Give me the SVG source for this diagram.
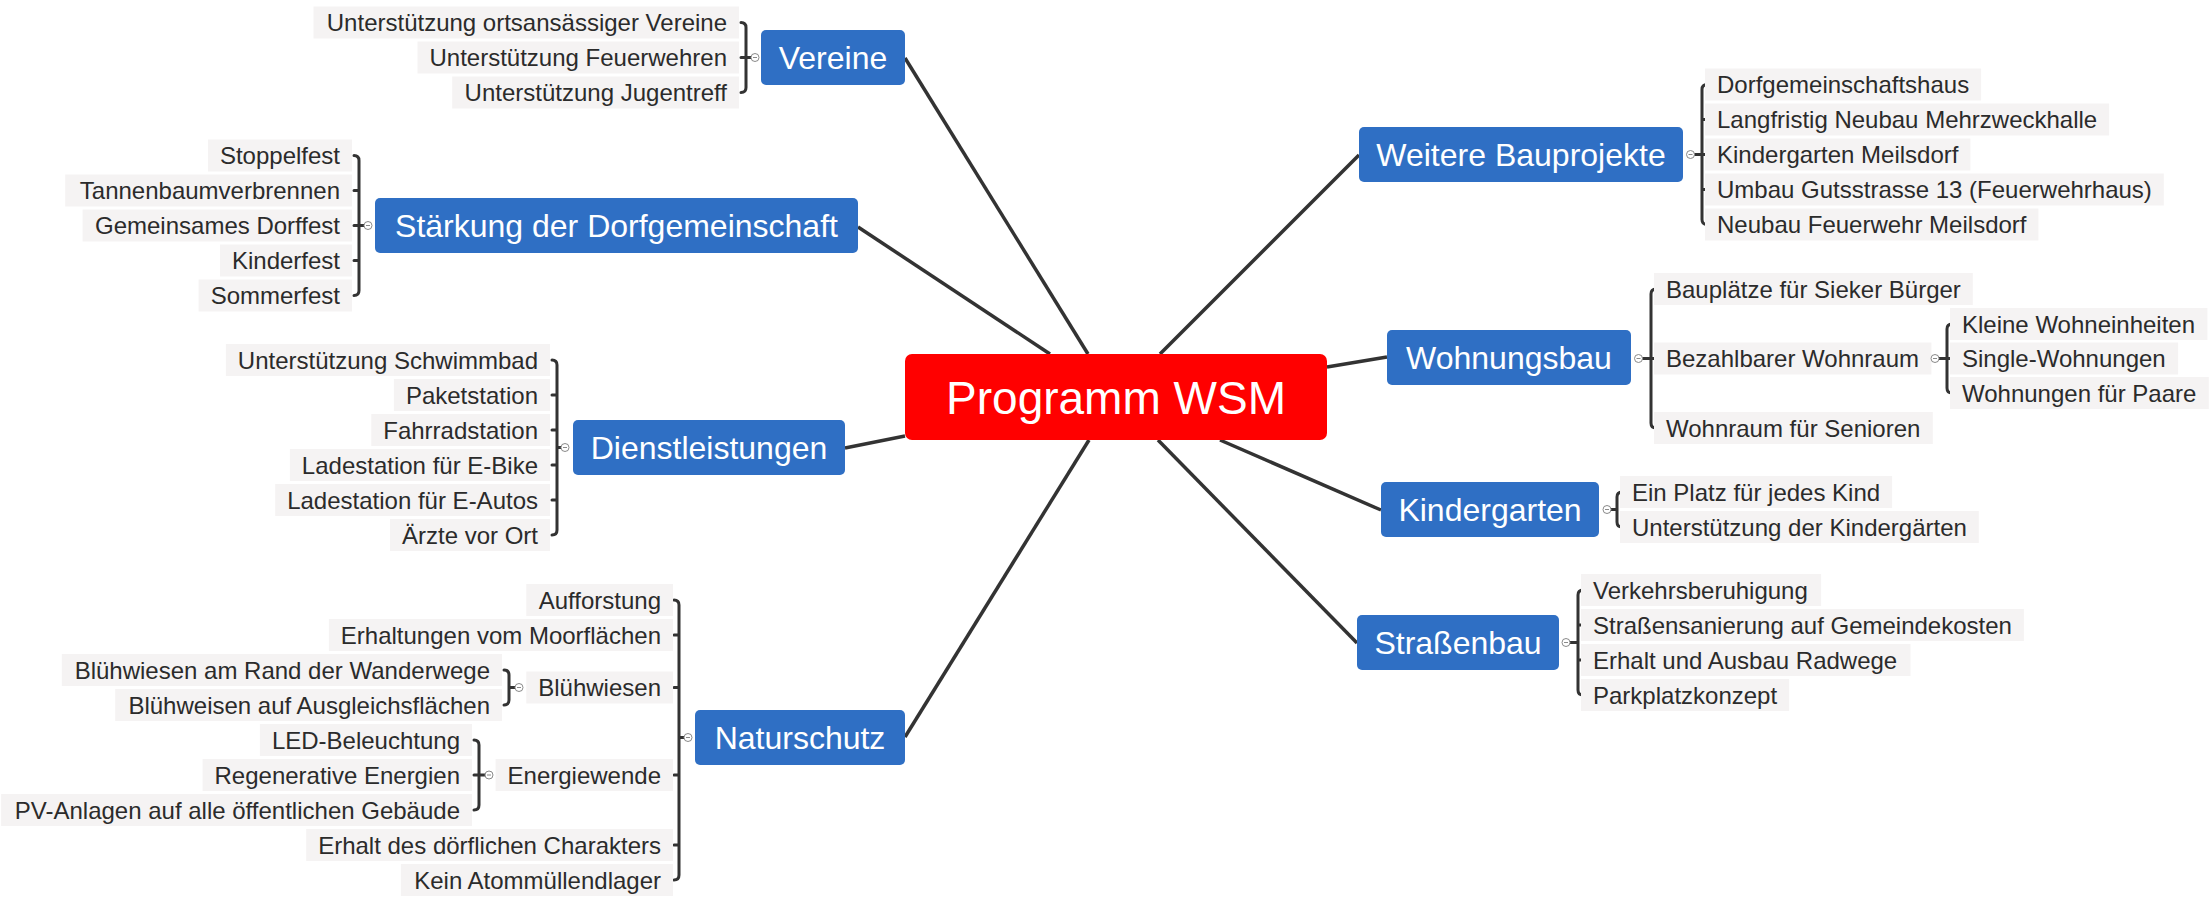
<svg xmlns="http://www.w3.org/2000/svg" width="2209" height="921" viewBox="0 0 2209 921">
<style>
text{font-family:"Liberation Sans",Arial,sans-serif}
.c{font-size:24px;fill:#2b2b2b}
.e{text-anchor:end}
.bg{fill:#f5f3f3}
.tp{fill:#2f6fc4}
.tt{font-size:32px;fill:#fff;text-anchor:middle}
.br{fill:none;stroke:#333;stroke-width:3;stroke-linecap:round}
.col{fill:#fff;stroke:#8a8a8a;stroke-width:1}
.mn{stroke:#8a8a8a;stroke-width:1}
.cn{stroke:#333;stroke-width:3.5;fill:none}
</style>

<g id="connectors">
<path class="cn" d="M905,58 L1088,354"/>
<path class="cn" d="M858,227 L1050,354"/>
<path class="cn" d="M845,448 L905,436"/>
<path class="cn" d="M905,737 L1089,440"/>
<path class="cn" d="M1359,155 L1160,354"/>
<path class="cn" d="M1327,367 L1387,357"/>
<path class="cn" d="M1220,440 L1381,510"/>
<path class="cn" d="M1158,440 L1357,643"/>
</g>

<g id="center">
<rect x="905" y="354" width="422" height="86" rx="7" fill="#ff0000"/>
<text x="1116" y="413.5" font-size="46" fill="#fff" text-anchor="middle">Programm WSM</text>
</g>

<!-- Vereine -->
<g id="vereine">
<rect class="tp" x="761" y="30" width="144" height="55" rx="5"/>
<text class="tt" x="833" y="69">Vereine</text>
<path class="br" d="M741,22.5 Q746,22.5 746,27.5 V87.5 Q746,92.5 741,92.5 M741,57.5 H751"/>
<circle class="col" cx="755" cy="57.5" r="4"/><path class="mn" d="M753,57.5 H757"/>
<rect class="bg" x="313.5" y="6.5" width="425.5" height="32"/>
<text class="c e" x="727" y="31">Unterstützung ortsansässiger Vereine</text>
<rect class="bg" x="417.5" y="41.5" width="321.5" height="32"/>
<text class="c e" x="727" y="66">Unterstützung Feuerwehren</text>
<rect class="bg" x="452.2" y="76.5" width="286.8" height="32"/>
<text class="c e" x="727" y="101">Unterstützung Jugentreff</text>
</g>

<!-- Stärkung -->
<g id="staerkung">
<rect class="tp" x="375" y="198" width="483" height="55" rx="5"/>
<text class="tt" x="616.5" y="237">Stärkung der Dorfgemeinschaft</text>
<path class="br" d="M354,155.5 Q359,155.5 359,160.5 V290.5 Q359,295.5 354,295.5 M354,190.5 H359 M354,225.5 H364 M354,260.5 H359"/>
<circle class="col" cx="368" cy="225.5" r="4"/><path class="mn" d="M366,225.5 H370"/>
<rect class="bg" x="208" y="139.5" width="144" height="32"/>
<text class="c e" x="340" y="164">Stoppelfest</text>
<rect class="bg" x="65.2" y="174.5" width="286.8" height="32"/>
<text class="c e" x="340" y="199">Tannenbaumverbrennen</text>
<rect class="bg" x="82.6" y="209.5" width="269.4" height="32"/>
<text class="c e" x="340" y="234">Gemeinsames Dorffest</text>
<rect class="bg" x="220" y="244.5" width="132" height="32"/>
<text class="c e" x="340" y="269">Kinderfest</text>
<rect class="bg" x="198.6" y="279.5" width="153.4" height="32"/>
<text class="c e" x="340" y="304">Sommerfest</text>
</g>

<!-- Dienstleistungen -->
<g id="dienstleistungen">
<rect class="tp" x="573" y="420" width="272" height="55" rx="5"/>
<text class="tt" x="709" y="459">Dienstleistungen</text>
<path class="br" d="M552,360 Q557,360 557,365 V530 Q557,535 552,535 M552,395 H557 M552,430 H557 M552,465 H557 M552,500 H557 M557,447.5 H561"/>
<circle class="col" cx="565" cy="447.5" r="4"/><path class="mn" d="M563,447.5 H567"/>
<rect class="bg" x="225.9" y="344" width="324.1" height="32"/>
<text class="c e" x="538" y="368.5">Unterstützung Schwimmbad</text>
<rect class="bg" x="393.9" y="379" width="156.1" height="32"/>
<text class="c e" x="538" y="403.5">Paketstation</text>
<rect class="bg" x="371.3" y="414" width="178.7" height="32"/>
<text class="c e" x="538" y="438.5">Fahrradstation</text>
<rect class="bg" x="289.9" y="449" width="260.1" height="32"/>
<text class="c e" x="538" y="473.5">Ladestation für E-Bike</text>
<rect class="bg" x="275.2" y="484" width="274.8" height="32"/>
<text class="c e" x="538" y="508.5">Ladestation für E-Autos</text>
<rect class="bg" x="390" y="519" width="160" height="32"/>
<text class="c e" x="538" y="543.5">Ärzte vor Ort</text>
</g>

<!-- Naturschutz -->
<g id="naturschutz">
<rect class="tp" x="695" y="710" width="210" height="55" rx="5"/>
<text class="tt" x="800" y="749">Naturschutz</text>
<path class="br" d="M674,600 Q679,600 679,605 V875 Q679,880 674,880 M674,635 H679 M674,687.5 H679 M674,775 H679 M674,845 H679 M679,737.5 H684"/>
<circle class="col" cx="688" cy="737.5" r="4"/><path class="mn" d="M686,737.5 H690"/>
<rect class="bg" x="526.3" y="584" width="146.7" height="32"/>
<text class="c e" x="661" y="608.5">Aufforstung</text>
<rect class="bg" x="328.9" y="619" width="344.1" height="32"/>
<text class="c e" x="661" y="643.5">Erhaltungen vom Moorflächen</text>
<rect class="bg" x="526.3" y="671.5" width="146.7" height="32"/>
<text class="c e" x="661" y="696">Blühwiesen</text>
<rect class="bg" x="495.6" y="759" width="177.4" height="32"/>
<text class="c e" x="661" y="783.5">Energiewende</text>
<rect class="bg" x="306.2" y="829" width="366.8" height="32"/>
<text class="c e" x="661" y="853.5">Erhalt des dörflichen Charakters</text>
<rect class="bg" x="400.9" y="864" width="272.1" height="32"/>
<text class="c e" x="661" y="888.5">Kein Atommüllendlager</text>
</g>

<g id="bluehwiesen">
<path class="br" d="M504,670 Q509,670 509,675 V700 Q509,705 504,705 M509,687.5 H515"/>
<circle class="col" cx="519" cy="687.5" r="4"/><path class="mn" d="M517,687.5 H521"/>
<rect class="bg" x="61.8" y="654" width="440.2" height="32"/>
<text class="c e" x="490" y="678.5">Blühwiesen am Rand der Wanderwege</text>
<rect class="bg" x="115.2" y="689" width="386.8" height="32"/>
<text class="c e" x="490" y="713.5">Blühweisen auf Ausgleichsflächen</text>
</g>

<g id="energiewende">
<path class="br" d="M474,740 Q479,740 479,745 V805 Q479,810 474,810 M474,775 H485"/>
<circle class="col" cx="489" cy="775" r="4"/><path class="mn" d="M487,775 H491"/>
<rect class="bg" x="259.9" y="724" width="212.1" height="32"/>
<text class="c e" x="460" y="748.5">LED-Beleuchtung</text>
<rect class="bg" x="202.6" y="759" width="269.4" height="32"/>
<text class="c e" x="460" y="783.5">Regenerative Energien</text>
<rect class="bg" x="1.1" y="794" width="470.9" height="32"/>
<text class="c e" x="460" y="818.5">PV-Anlagen auf alle öffentlichen Gebäude</text>
</g>

<!-- Weitere Bauprojekte -->
<g id="bauprojekte">
<rect class="tp" x="1359" y="127" width="324" height="55" rx="5"/>
<text class="tt" x="1521" y="166">Weitere Bauprojekte</text>
<path class="br" d="M1707,84.5 Q1702,84.5 1702,89.5 V219.5 Q1702,224.5 1707,224.5 M1702,119.5 H1707 M1694.5,154.5 H1707 M1702,189.5 H1707"/>
<circle class="col" cx="1690.5" cy="154.5" r="4"/><path class="mn" d="M1688.5,154.5 H1692.5"/>
<rect class="bg" x="1705" y="68.5" width="276.1" height="32"/>
<text class="c" x="1717" y="93">Dorfgemeinschaftshaus</text>
<rect class="bg" x="1705" y="103.5" width="404.1" height="32"/>
<text class="c" x="1717" y="128">Langfristig Neubau Mehrzweckhalle</text>
<rect class="bg" x="1705" y="138.5" width="265.4" height="32"/>
<text class="c" x="1717" y="163">Kindergarten Meilsdorf</text>
<rect class="bg" x="1705" y="173.5" width="458.8" height="32"/>
<text class="c" x="1717" y="198">Umbau Gutsstrasse 13 (Feuerwehrhaus)</text>
<rect class="bg" x="1705" y="208.5" width="333.4" height="32"/>
<text class="c" x="1717" y="233">Neubau Feuerwehr Meilsdorf</text>
</g>

<!-- Wohnungsbau -->
<g id="wohnungsbau">
<rect class="tp" x="1387" y="330" width="244" height="55" rx="5"/>
<text class="tt" x="1509" y="369">Wohnungsbau</text>
<path class="br" d="M1656,289 Q1651,289 1651,294 V423 Q1651,428 1656,428 M1642.5,358.5 H1656"/>
<circle class="col" cx="1638.5" cy="358.5" r="4"/><path class="mn" d="M1636.5,358.5 H1640.5"/>
<rect class="bg" x="1654" y="273" width="318.8" height="32"/>
<text class="c" x="1666" y="297.5">Bauplätze für Sieker Bürger</text>
<rect class="bg" x="1654" y="342.5" width="277.4" height="32"/>
<text class="c" x="1666" y="367">Bezahlbarer Wohnraum</text>
<rect class="bg" x="1654" y="412" width="278.8" height="32"/>
<text class="c" x="1666" y="436.5">Wohnraum für Senioren</text>
</g>

<g id="bezahlbarer">
<path class="br" d="M1952,324 Q1947,324 1947,329 V388 Q1947,393 1952,393 M1939,358.5 H1952"/>
<circle class="col" cx="1935" cy="358.5" r="4"/><path class="mn" d="M1933,358.5 H1937"/>
<rect class="bg" x="1950" y="308" width="257.4" height="32"/>
<text class="c" x="1962" y="332.5">Kleine Wohneinheiten</text>
<rect class="bg" x="1950" y="342.5" width="228.1" height="32"/>
<text class="c" x="1962" y="367">Single-Wohnungen</text>
<rect class="bg" x="1950" y="377" width="258.8" height="32"/>
<text class="c" x="1962" y="401.5">Wohnungen für Paare</text>
</g>

<!-- Kindergarten -->
<g id="kindergarten">
<rect class="tp" x="1381" y="482" width="218" height="55" rx="5"/>
<text class="tt" x="1490" y="521">Kindergarten</text>
<path class="br" d="M1622,492 Q1617,492 1617,497 V522 Q1617,527 1622,527 M1611,509.5 H1617"/>
<circle class="col" cx="1607" cy="509.5" r="4"/><path class="mn" d="M1605,509.5 H1609"/>
<rect class="bg" x="1620" y="476" width="272.1" height="32"/>
<text class="c" x="1632" y="500.5">Ein Platz für jedes Kind</text>
<rect class="bg" x="1620" y="511" width="358.8" height="32"/>
<text class="c" x="1632" y="535.5">Unterstützung der Kindergärten</text>
</g>

<!-- Straßenbau -->
<g id="strassenbau">
<rect class="tp" x="1357" y="615" width="202" height="55" rx="5"/>
<text class="tt" x="1458" y="654">Straßenbau</text>
<path class="br" d="M1583,590 Q1578,590 1578,595 V690 Q1578,695 1583,695 M1578,625 H1583 M1570,642.5 H1578 M1578,660 H1583"/>
<circle class="col" cx="1566" cy="642.5" r="4"/><path class="mn" d="M1564,642.5 H1568"/>
<rect class="bg" x="1581" y="574" width="240.1" height="32"/>
<text class="c" x="1593" y="598.5">Verkehrsberuhigung</text>
<rect class="bg" x="1581" y="609" width="442.9" height="32"/>
<text class="c" x="1593" y="633.5">Straßensanierung auf Gemeindekosten</text>
<rect class="bg" x="1581" y="644" width="329.5" height="32"/>
<text class="c" x="1593" y="668.5">Erhalt und Ausbau Radwege</text>
<rect class="bg" x="1581" y="679" width="208.1" height="32"/>
<text class="c" x="1593" y="703.5">Parkplatzkonzept</text>
</g>
</svg>
